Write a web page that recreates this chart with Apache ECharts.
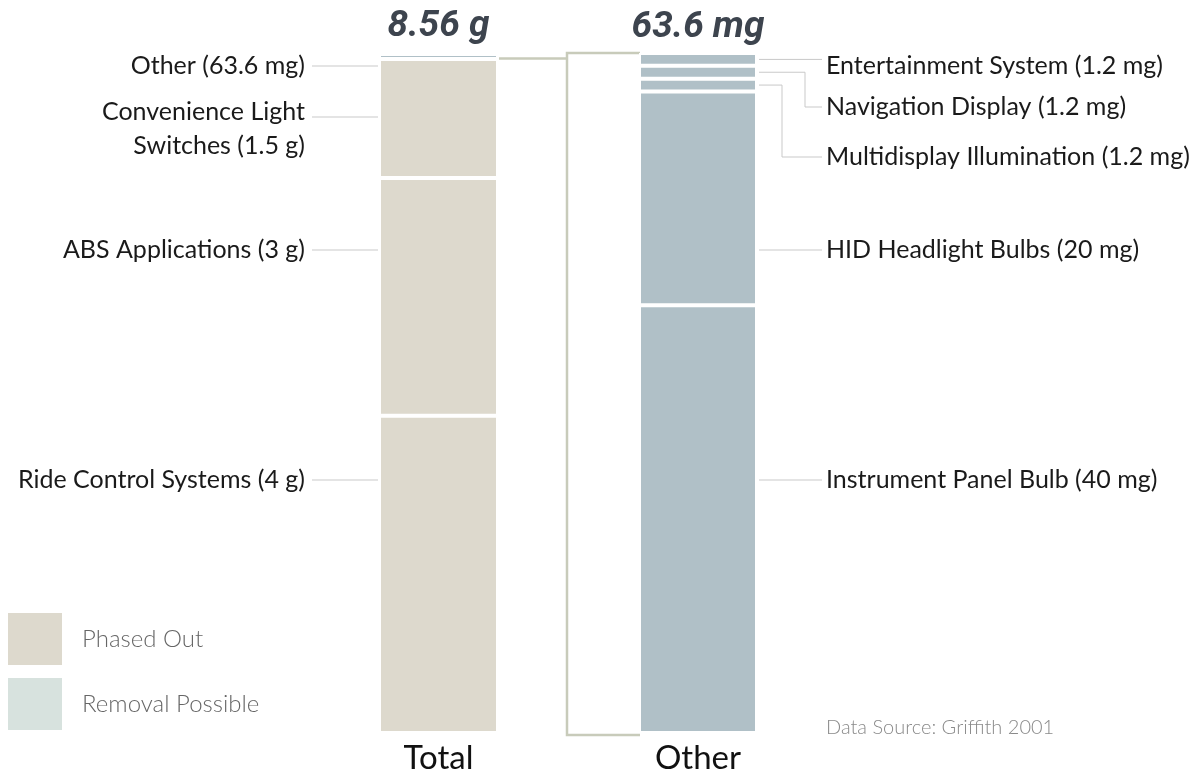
<!DOCTYPE html>
<html>
<head>
<meta charset="utf-8">
<script src="https://cdn.jsdelivr.net/npm/echarts@6/dist/echarts.min.js"></script>
<style>
  html, body { margin: 0; padding: 0; background: #fff; }
  #chart { width: 1201px; height: 775px; }
</style>
</head>
<body>
<div id="chart"></div>
<script>
// Mercury use in vehicles: total by application (g) and breakdown of "Other" (mg)
const barCategories = ['Total', 'Other'];

const totalNames = ['Ride Control Systems', 'ABS Applications', 'Convenience Light Switches', 'Other'];
const totalValuesG = [4, 3, 1.5, 0.0636];
const totalLabels = ['Ride Control Systems (4 g)', 'ABS Applications (3 g)', 'Convenience Light\nSwitches (1.5 g)', 'Other (63.6 mg)'];

const otherNames = ['Instrument Panel Bulb', 'HID Headlight Bulbs', 'Multidisplay Illumination', 'Navigation Display', 'Entertainment System'];
const otherValuesMg = [40, 20, 1.2, 1.2, 1.2];
const otherLabels = ['Instrument Panel Bulb (40 mg)', 'HID Headlight Bulbs (20 mg)', 'Multidisplay Illumination (1.2 mg)', 'Navigation Display (1.2 mg)', 'Entertainment System (1.2 mg)'];

const legendNames = ['Phased Out', 'Removal Possible'];
const sourceNote = 'Data Source: Griffith 2001';

// layout
const gridTotal = { left: 379, top: 54, width: 119, height: 680 };
const gridOther = { left: 639, top: 53, width: 118, height: 681 };
const leftTextY = [480, 250, 128.5, 66];
const leftLeaderY = [480, 250, 117, 66];
const rightTextY = [480, 250, 157, 107, 66];
const rightElbowX = [null, null, 782, 805, null];
const bracketX = 567;

const COLORS = {
  phased: '#ddd9cd',
  removal: '#d7e2de',
  otherBar: '#b0c0c7',
  leader: '#c9c9c9',
  bracket: '#c8cbba',
  title: '#3d444e',
  text: '#1a1a1a'
};
const FONT = 'Lato, "Open Sans", sans-serif';

const sum = a => a.reduce((s, v) => s + v, 0);
const totalSum = sum(totalValuesG);
const otherSum = sum(otherValuesMg);

const chart = echarts.init(document.getElementById('chart'), null, { renderer: 'canvas' });

const segStyle = color => ({ color: color, borderColor: '#ffffff', borderWidth: 2 });

const series = [];
totalNames.forEach((n, i) => {
  // the last slice ("Other") is broken down in the second bar, so it takes that bar's colour
  const last = i === totalNames.length - 1;
  series.push({
    type: 'bar', name: n, stack: 'total', xAxisIndex: 0, yAxisIndex: 0,
    barWidth: '100%', data: [totalValuesG[i]], itemStyle: segStyle(last ? COLORS.otherBar : COLORS.phased),
    emphasis: { disabled: true }, silent: true
  });
});
otherNames.forEach((n, i) => {
  series.push({
    type: 'bar', name: n, stack: 'other', xAxisIndex: 1, yAxisIndex: 1,
    barWidth: '100%', data: [otherValuesMg[i]], itemStyle: segStyle(COLORS.otherBar),
    emphasis: { disabled: true }, silent: true
  });
});
// legend-only entries
series.push({ type: 'bar', name: legendNames[0], stack: 'total', xAxisIndex: 0, yAxisIndex: 0, data: [], itemStyle: { color: COLORS.phased } });
series.push({ type: 'bar', name: legendNames[1], stack: 'total', xAxisIndex: 0, yAxisIndex: 0, data: [], itemStyle: { color: COLORS.removal } });

const xAxisBase = idx => ({
  type: 'category', gridIndex: idx, data: [barCategories[idx]],
  axisLine: { show: false }, axisTick: { show: false }, splitLine: { show: false },
  axisLabel: { show: true, fontSize: 33, color: '#111', fontFamily: FONT, margin: 9 }
});
const yAxisBase = (idx, max) => ({
  type: 'value', gridIndex: idx, min: 0, max: max, show: false, splitLine: { show: false }
});

chart.setOption({
  animation: false,
  backgroundColor: '#ffffff',
  grid: [
    Object.assign({ containLabel: false }, gridTotal),
    Object.assign({ containLabel: false }, gridOther)
  ],
  xAxis: [xAxisBase(0), xAxisBase(1)],
  yAxis: [yAxisBase(0, totalSum), yAxisBase(1, otherSum)],
  legend: {
    data: legendNames, orient: 'vertical', left: 3, top: 608,
    icon: 'rect', itemWidth: 54, itemHeight: 52, itemGap: 13,
    selectedMode: false,
    textStyle: { fontSize: 24, color: '#666', fontFamily: FONT, fontWeight: 300, padding: [0, 0, 0, 15] }
  },
  series: series
});

// pixel helpers driven by the axes
const px = (grid, value) => chart.convertToPixel({ gridIndex: grid }, [0, value]);
const bounds = (grid, values) => {
  const out = [];
  let acc = 0;
  values.forEach(v => {
    const y0 = px(grid, acc)[1];
    const y1 = px(grid, acc + v)[1];
    out.push({ top: Math.min(y0, y1), bottom: Math.max(y0, y1), mid: (y0 + y1) / 2 });
    acc += v;
  });
  return out;
};

const totalSegs = bounds(0, totalValuesG);
const otherSegs = bounds(1, otherValuesMg);
const totalCx = px(0, 0)[0];
const otherCx = px(1, 0)[0];
const totalLeft = totalCx - gridTotal.width / 2;
const totalRight = totalCx + gridTotal.width / 2;
const otherLeft = otherCx - gridOther.width / 2;
const otherRight = otherCx + gridOther.width / 2;
const totalTopY = px(0, totalSum)[1];
const otherTopY = px(1, otherSum)[1];
const baseY = px(1, 0)[1];

const g = [];
const text = (x, y, str, opts) => g.push({
  type: 'text', x: x, y: y, silent: true,
  style: Object.assign({ text: str, fill: COLORS.text, font: '25px ' + FONT, align: 'left', verticalAlign: 'middle', lineHeight: 34 }, opts || {})
});
const poly = (pts, stroke, w) => g.push({
  type: 'polyline', silent: true, shape: { points: pts },
  style: { stroke: stroke, lineWidth: w, fill: null }
});

// totals above the bars
const titleFont = 'italic bold 37px Roboto, sans-serif';
text(totalCx, totalTopY - 27, totalSum.toFixed(2) + ' g', { font: titleFont, fill: COLORS.title, align: 'center' });
text(otherCx, otherTopY - 25, otherSum.toFixed(1) + ' mg', { font: titleFont, fill: COLORS.title, align: 'center' });

// left labels with straight leaders
totalLabels.forEach((lab, i) => {
  text(305, leftTextY[i], lab, { align: 'right' });
  poly([[312, leftLeaderY[i]], [totalLeft - 1, leftLeaderY[i]]], COLORS.leader, 1);
});

// right labels with elbow leaders
otherLabels.forEach((lab, i) => {
  const seg = otherSegs[i];
  const ty = rightTextY[i];
  text(826, ty, lab, { align: 'left' });
  const inside = ty > seg.top + 1 && ty < seg.bottom - 1;
  const ay = inside ? ty : seg.mid;
  const x0 = otherRight + 2;
  if (rightElbowX[i] !== null) {
    poly([[x0, ay], [rightElbowX[i], ay], [rightElbowX[i], ty], [822, ty]], COLORS.leader, 1);
  } else {
    poly([[x0, ay], [822, ay]], COLORS.leader, 1);
  }
});

// bracket linking the small "Other" slice to its breakdown
const otherSliceY = totalSegs[totalSegs.length - 1].mid + 2;
poly([[totalRight + 1, otherSliceY], [bracketX, otherSliceY]], COLORS.bracket, 2.5);
poly([[otherLeft + 1, otherTopY], [bracketX, otherTopY], [bracketX, baseY + 2], [otherLeft + 1, baseY + 2]], COLORS.bracket, 2.5);

// source note
text(826, 728, sourceNote, { font: '300 20px ' + FONT, fill: '#8a8a8a' });

chart.setOption({ graphic: g });
</script>
</body>
</html>
